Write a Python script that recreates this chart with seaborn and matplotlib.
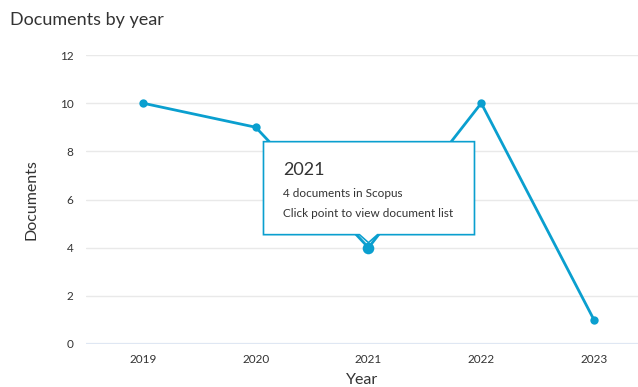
import matplotlib
matplotlib.use("Agg")
import matplotlib.pyplot as plt
import seaborn as sns
import pandas as pd
from matplotlib.patches import Polygon

years = [2019, 2020, 2021, 2022, 2023]
documents = [10, 9, 4, 10, 1]
y_ticks = [0, 2, 4, 6, 8, 10, 12]
highlight_year = 2021
title = "Documents by year"

sns.set_theme(style="white")
plt.rcParams['font.family'] = ['Lato', 'DejaVu Sans']

LINE = '#0a9fcf'
TXT = '#333333'

df = pd.DataFrame({"Year": years, "Documents": documents})

fig = plt.figure(figsize=(6.38, 3.87), dpi=100)
ax = fig.add_axes([86/638, (387-344)/387, 1 - 86/638, (344-55)/387])

sns.lineplot(data=df, x="Year", y="Documents", ax=ax, color=LINE, lw=2,
             marker='o', markersize=6, markeredgewidth=0, zorder=3)
hl = df[df.Year == highlight_year]
ax.scatter(hl.Year, hl.Documents, s=70, color=LINE, zorder=6, linewidths=0)

ax.set_xlim(2018.495, 2023.39)
ax.set_ylim(0, 12)
ax.set_yticks(y_ticks)
ax.set_xticks(years)
ax.set_xticklabels([str(y) for y in years])
for s in ax.spines.values():
    s.set_visible(False)
ax.grid(axis='y', color='#e9e9e9', lw=1)
ax.grid(axis='x', visible=False)
ax.axhline(0, color='#dfe7f3', lw=1.6, zorder=1)
ax.tick_params(axis='both', length=0, labelsize=8.5, colors=TXT)
ax.tick_params(axis='y', pad=9)
ax.tick_params(axis='x', pad=7)
ax.set_xlabel("Year", fontsize=11.5, color=TXT, labelpad=6)
ax.set_ylabel("Documents", fontsize=11.5, color=TXT, labelpad=15)

fig.text(10/638, 1 - 20/387, title, fontsize=13, color=TXT, va='center', ha='left')

# tooltip anchored to the highlighted point
fig.canvas.draw()
px, py = ax.transData.transform((highlight_year, float(hl.Documents.iloc[0])))
L, R, T, B, tip, hw = -105, 106, 106, 13, 5, 9
pts = [(L, T), (R, T), (R, B), (hw, B), (0, tip), (-hw, B), (L, B)]
poly = Polygon([(px + dx, py + dy) for dx, dy in pts], closed=True, transform=None,
               facecolor='white', edgecolor=LINE, lw=1.2, zorder=5)
fig.add_artist(poly)
fig.text((px - 85) / 638, (py + 78) / 387, str(highlight_year), fontsize=13, color=TXT,
         va='center', ha='left', zorder=7)
fig.text((px - 85) / 638, (py + 54) / 387, f"{int(hl.Documents.iloc[0])} documents in Scopus",
         fontsize=8.5, color=TXT, va='center', ha='left', zorder=7)
fig.text((px - 85) / 638, (py + 34) / 387, "Click point to view document list",
         fontsize=8.5, color=TXT, va='center', ha='left', zorder=7)

fig.savefig("out.png", dpi=100)
